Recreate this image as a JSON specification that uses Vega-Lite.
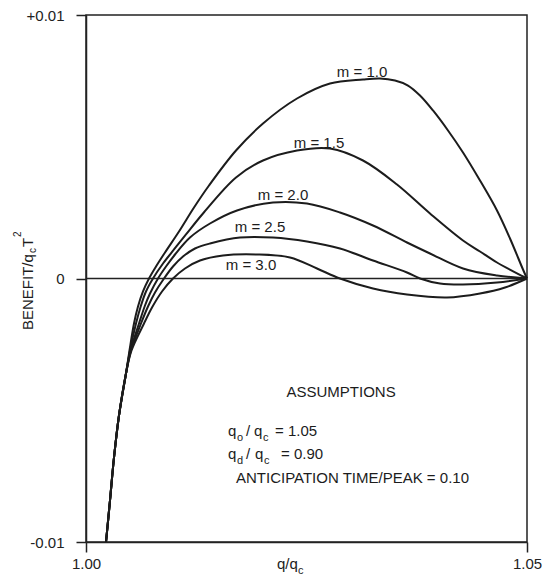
{
  "$schema": "https://vega.github.io/schema/vega-lite/v6.json",
  "width": 441,
  "height": 527,
  "autosize": "none",
  "padding": {"left": 86, "top": 15, "right": 23, "bottom": 41},
  "background": "white",
  "config": {
    "view": {"stroke": "#222", "strokeWidth": 1.5},
    "font": "Liberation Sans",
    "axis": {"domainColor": "#222", "domainWidth": 1.5, "tickColor": "#222", "tickWidth": 1.5, "tickSize": 10, "labelColor": "#222", "labelFont": "Liberation Sans", "labelFontSize": 15, "labelFlush": false, "labelOverlap": false, "grid": false, "title": null}
  },
  "datasets": {
    "curves": [
      {"m": "1.0", "x": 1.002268, "y": -0.0100},
      {"m": "1.0", "x": 1.002721, "y": -0.008425},
      {"m": "1.0", "x": 1.003175, "y": -0.006793},
      {"m": "1.0", "x": 1.003741, "y": -0.005199},
      {"m": "1.0", "x": 1.004535, "y": -0.003605},
      {"m": "1.0", "x": 1.004932, "y": -0.002732},
      {"m": "1.0", "x": 1.005442, "y": -0.001708},
      {"m": "1.0", "x": 1.005896, "y": -0.001063},
      {"m": "1.0", "x": 1.006463, "y": -0.000493},
      {"m": "1.0", "x": 1.007143, "y": 0},
      {"m": "1.0", "x": 1.007937, "y": 0.000455},
      {"m": "1.0", "x": 1.008957, "y": 0.000987},
      {"m": "1.0", "x": 1.010544, "y": 0.001784},
      {"m": "1.0", "x": 1.012245, "y": 0.002695},
      {"m": "1.0", "x": 1.013946, "y": 0.003530},
      {"m": "1.0", "x": 1.017007, "y": 0.004858},
      {"m": "1.0", "x": 1.020068, "y": 0.005882},
      {"m": "1.0", "x": 1.023923, "y": 0.006831},
      {"m": "1.0", "x": 1.027664, "y": 0.007400},
      {"m": "1.0", "x": 1.031406, "y": 0.007552},
      {"m": "1.0", "x": 1.033333, "y": 0.007590},
      {"m": "1.0", "x": 1.035034, "y": 0.007514},
      {"m": "1.0", "x": 1.036508, "y": 0.007324},
      {"m": "1.0", "x": 1.037868, "y": 0.006945},
      {"m": "1.0", "x": 1.039342, "y": 0.006376},
      {"m": "1.0", "x": 1.041043, "y": 0.005617},
      {"m": "1.0", "x": 1.042744, "y": 0.004782},
      {"m": "1.0", "x": 1.044671, "y": 0.003719},
      {"m": "1.0", "x": 1.046599, "y": 0.002581},
      {"m": "1.0", "x": 1.048073, "y": 0.001518},
      {"m": "1.0", "x": 1.049546, "y": 0.000342},
      {"m": "1.0", "x": 1.05, "y": 0},

      {"m": "1.5", "x": 1.002268, "y": -0.0100},
      {"m": "1.5", "x": 1.002721, "y": -0.008425},
      {"m": "1.5", "x": 1.003175, "y": -0.006793},
      {"m": "1.5", "x": 1.003741, "y": -0.005199},
      {"m": "1.5", "x": 1.004535, "y": -0.003605},
      {"m": "1.5", "x": 1.004989, "y": -0.002732},
      {"m": "1.5", "x": 1.005669, "y": -0.001708},
      {"m": "1.5", "x": 1.006236, "y": -0.001025},
      {"m": "1.5", "x": 1.006803, "y": -0.000493},
      {"m": "1.5", "x": 1.007596, "y": 0},
      {"m": "1.5", "x": 1.008730, "y": 0.000569},
      {"m": "1.5", "x": 1.009977, "y": 0.001101},
      {"m": "1.5", "x": 1.011338, "y": 0.001670},
      {"m": "1.5", "x": 1.013265, "y": 0.002467},
      {"m": "1.5", "x": 1.017007, "y": 0.003833},
      {"m": "1.5", "x": 1.020068, "y": 0.004478},
      {"m": "1.5", "x": 1.023923, "y": 0.004858},
      {"m": "1.5", "x": 1.027664, "y": 0.004934},
      {"m": "1.5", "x": 1.031406, "y": 0.004478},
      {"m": "1.5", "x": 1.035261, "y": 0.003567},
      {"m": "1.5", "x": 1.039002, "y": 0.002467},
      {"m": "1.5", "x": 1.042744, "y": 0.001442},
      {"m": "1.5", "x": 1.044671, "y": 0.001025},
      {"m": "1.5", "x": 1.046599, "y": 0.000607},
      {"m": "1.5", "x": 1.049546, "y": 0.000076},
      {"m": "1.5", "x": 1.05, "y": 0},

      {"m": "2.0", "x": 1.002268, "y": -0.0100},
      {"m": "2.0", "x": 1.002721, "y": -0.008425},
      {"m": "2.0", "x": 1.003175, "y": -0.006793},
      {"m": "2.0", "x": 1.003741, "y": -0.005199},
      {"m": "2.0", "x": 1.004535, "y": -0.003605},
      {"m": "2.0", "x": 1.005045, "y": -0.002732},
      {"m": "2.0", "x": 1.006009, "y": -0.001708},
      {"m": "2.0", "x": 1.006689, "y": -0.001025},
      {"m": "2.0", "x": 1.007256, "y": -0.000569},
      {"m": "2.0", "x": 1.008163, "y": 0},
      {"m": "2.0", "x": 1.009070, "y": 0.000455},
      {"m": "2.0", "x": 1.010091, "y": 0.000911},
      {"m": "2.0", "x": 1.011791, "y": 0.001556},
      {"m": "2.0", "x": 1.014059, "y": 0.002087},
      {"m": "2.0", "x": 1.017120, "y": 0.002581},
      {"m": "2.0", "x": 1.021202, "y": 0.002884},
      {"m": "2.0", "x": 1.025057, "y": 0.002846},
      {"m": "2.0", "x": 1.028798, "y": 0.002505},
      {"m": "2.0", "x": 1.032540, "y": 0.002011},
      {"m": "2.0", "x": 1.036395, "y": 0.001366},
      {"m": "2.0", "x": 1.039002, "y": 0.000949},
      {"m": "2.0", "x": 1.042744, "y": 0.000380},
      {"m": "2.0", "x": 1.046599, "y": 0.000114},
      {"m": "2.0", "x": 1.05, "y": 0},

      {"m": "2.5", "x": 1.002268, "y": -0.0100},
      {"m": "2.5", "x": 1.002721, "y": -0.008425},
      {"m": "2.5", "x": 1.003175, "y": -0.006793},
      {"m": "2.5", "x": 1.003741, "y": -0.005199},
      {"m": "2.5", "x": 1.004535, "y": -0.003605},
      {"m": "2.5", "x": 1.005102, "y": -0.002732},
      {"m": "2.5", "x": 1.006236, "y": -0.001708},
      {"m": "2.5", "x": 1.007029, "y": -0.001063},
      {"m": "2.5", "x": 1.007823, "y": -0.000531},
      {"m": "2.5", "x": 1.008844, "y": 0},
      {"m": "2.5", "x": 1.009864, "y": 0.000455},
      {"m": "2.5", "x": 1.010998, "y": 0.000835},
      {"m": "2.5", "x": 1.012358, "y": 0.001139},
      {"m": "2.5", "x": 1.014059, "y": 0.001328},
      {"m": "2.5", "x": 1.017460, "y": 0.001556},
      {"m": "2.5", "x": 1.021202, "y": 0.001556},
      {"m": "2.5", "x": 1.025057, "y": 0.001404},
      {"m": "2.5", "x": 1.028798, "y": 0.001139},
      {"m": "2.5", "x": 1.032540, "y": 0.000683},
      {"m": "2.5", "x": 1.036395, "y": 0.000228},
      {"m": "2.5", "x": 1.037868, "y": 0},
      {"m": "2.5", "x": 1.040136, "y": -0.000190},
      {"m": "2.5", "x": 1.042744, "y": -0.000228},
      {"m": "2.5", "x": 1.046599, "y": -0.000152},
      {"m": "2.5", "x": 1.05, "y": 0},

      {"m": "3.0", "x": 1.002268, "y": -0.0100},
      {"m": "3.0", "x": 1.002721, "y": -0.008425},
      {"m": "3.0", "x": 1.003175, "y": -0.006793},
      {"m": "3.0", "x": 1.003741, "y": -0.005199},
      {"m": "3.0", "x": 1.004535, "y": -0.003605},
      {"m": "3.0", "x": 1.005159, "y": -0.002732},
      {"m": "3.0", "x": 1.006576, "y": -0.001708},
      {"m": "3.0", "x": 1.007483, "y": -0.001101},
      {"m": "3.0", "x": 1.008617, "y": -0.000493},
      {"m": "3.0", "x": 1.009864, "y": 0},
      {"m": "3.0", "x": 1.011224, "y": 0.000380},
      {"m": "3.0", "x": 1.012925, "y": 0.000683},
      {"m": "3.0", "x": 1.015533, "y": 0.000873},
      {"m": "3.0", "x": 1.019388, "y": 0.000911},
      {"m": "3.0", "x": 1.023129, "y": 0.000797},
      {"m": "3.0", "x": 1.026190, "y": 0.000380},
      {"m": "3.0", "x": 1.028798, "y": 0},
      {"m": "3.0", "x": 1.032540, "y": -0.000380},
      {"m": "3.0", "x": 1.036395, "y": -0.000607},
      {"m": "3.0", "x": 1.040930, "y": -0.000721},
      {"m": "3.0", "x": 1.044671, "y": -0.000569},
      {"m": "3.0", "x": 1.047506, "y": -0.000342},
      {"m": "3.0", "x": 1.05, "y": 0}
    ],
    "zero": [{"x": 1.0, "y": 0}, {"x": 1.05, "y": 0}],
    "curveLabels": [
      {"t": "m = 1.0", "x": 1.031293, "y": 0.007647},
      {"t": "m = 1.5", "x": 1.026417, "y": 0.004953},
      {"t": "m = 2.0", "x": 1.022336, "y": 0.002979},
      {"t": "m = 2.5", "x": 1.019728, "y": 0.001765},
      {"t": "m = 3.0", "x": 1.018707, "y": 0.000323}
    ],
    "notes": [
      {"t": "ASSUMPTIONS", "x": 1.022732, "y": -0.004497},
      {"t": "q", "x": 1.016100, "y": -0.005977},
      {"t": "/", "x": 1.018141, "y": -0.005977},
      {"t": "q", "x": 1.019048, "y": -0.005977},
      {"t": "= 1.05", "x": 1.021429, "y": -0.005977},
      {"t": "q", "x": 1.016100, "y": -0.006850},
      {"t": "/", "x": 1.018141, "y": -0.006850},
      {"t": "q", "x": 1.019161, "y": -0.006850},
      {"t": "= 0.90", "x": 1.022109, "y": -0.006850},
      {"t": "ANTICIPATION TIME/PEAK = 0.10", "x": 1.017007, "y": -0.007761},
      {"t": "q/q", "x": 1.021655, "y": -0.011025}
    ],
    "subs": [
      {"t": "o", "x": 1.017120, "y": -0.006167},
      {"t": "c", "x": 1.020068, "y": -0.006167},
      {"t": "d", "x": 1.017120, "y": -0.007040},
      {"t": "c", "x": 1.020181, "y": -0.007040},
      {"t": "c", "x": 1.024036, "y": -0.011214}
    ],
    "ytitle": [
      {"t": "BENEFIT/q", "x": 0.993991, "y": -0.001954},
      {"t": "T", "x": 0.993991, "y": 0.001195}
    ],
    "ytitleSmall": [
      {"t": "c", "x": 0.994331, "y": 0.000968},
      {"t": "2", "x": 0.992630, "y": 0.001575}
    ]
  },
  "encoding": {
    "x": {
      "field": "x", "type": "quantitative",
      "scale": {"domain": [1.0, 1.05], "zero": false, "nice": false},
      "axis": {"values": [1.0, 1.05], "format": ".2f", "labelPadding": 4}
    },
    "y": {
      "field": "y", "type": "quantitative",
      "scale": {"domain": [-0.01, 0.01], "zero": false, "nice": false},
      "axis": {"values": [-0.01, 0, 0.01], "labelExpr": "datum.value > 0.001 ? '+0.01' : (datum.value < -0.001 ? '-0.01' : '0')", "labelPadding": 12}
    }
  },
  "layer": [
    {
      "data": {"name": "zero"},
      "mark": {"type": "line", "color": "#222", "strokeWidth": 1.5},
      "encoding": {}
    },
    {
      "data": {"name": "curves"},
      "mark": {"type": "line", "color": "#1c1c1c", "strokeWidth": 2, "interpolate": "catmull-rom"},
      "encoding": {"detail": {"field": "m"}}
    },
    {
      "data": {"name": "curveLabels"},
      "mark": {"type": "text", "align": "center", "baseline": "alphabetic", "fontSize": 15, "color": "#1c1c1c", "font": "Liberation Sans"},
      "encoding": {"text": {"field": "t"}}
    },
    {
      "data": {"name": "notes"},
      "mark": {"type": "text", "align": "left", "baseline": "alphabetic", "fontSize": 15, "color": "#1c1c1c", "font": "Liberation Sans"},
      "encoding": {"text": {"field": "t"}}
    },
    {
      "data": {"name": "subs"},
      "mark": {"type": "text", "align": "left", "baseline": "alphabetic", "fontSize": 11, "color": "#1c1c1c", "font": "Liberation Sans"},
      "encoding": {"text": {"field": "t"}}
    },
    {
      "data": {"name": "ytitle"},
      "mark": {"type": "text", "align": "left", "baseline": "alphabetic", "angle": 270, "fontSize": 15, "color": "#1c1c1c", "font": "Liberation Sans"},
      "encoding": {"text": {"field": "t"}}
    },
    {
      "data": {"name": "ytitleSmall"},
      "mark": {"type": "text", "align": "left", "baseline": "alphabetic", "angle": 270, "fontSize": 10, "color": "#1c1c1c", "font": "Liberation Sans"},
      "encoding": {"text": {"field": "t"}}
    }
  ]
}
